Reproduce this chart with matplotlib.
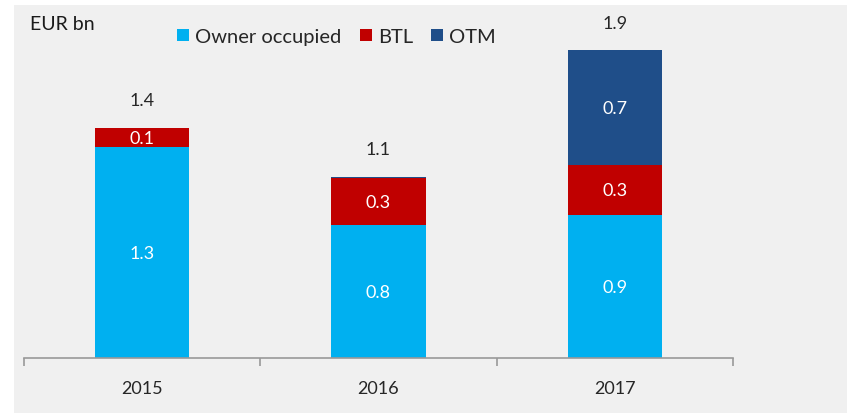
import numpy as np
import matplotlib.pyplot as plt
from matplotlib.patches import Rectangle

years = ['2015', '2016', '2017']
owner_occupied = [1.30, 0.82, 0.88]
btl = [0.12, 0.29, 0.31]
otm = [0.0, 0.01, 0.71]
series_names = ['Owner occupied', 'BTL', 'OTM']
colors = ['#00b0f0', '#c00000', '#1f4e89']

plt.rcParams['font.family'] = ['Lato', 'DejaVu Sans']

fig = plt.figure(figsize=(8.47, 4.14), dpi=100)
fig.patch.set_facecolor('white')
# grey panel behind the chart
fig.patches.append(Rectangle((14 / 847, 0), 1, 1 - 6 / 414, transform=fig.transFigure,
                             facecolor='#f0f0f0', edgecolor='none', zorder=-10))

ax = fig.add_axes([24 / 847, 55 / 414, 709 / 847, 324 / 414])
ax.set_facecolor('none')

x = np.arange(len(years))
bottom = np.zeros(len(years))
for vals, name, c in zip([owner_occupied, btl, otm], series_names, colors):
    vals = np.array(vals)
    ax.bar(x, vals, width=0.40, bottom=bottom, color=c, label=name, zorder=2)
    for xi, b, v in zip(x, bottom, vals):
        if v >= 0.1:
            ax.text(xi, b + v / 2, f'{v:.1f}', ha='center', va='center',
                    color='white', fontsize=13, zorder=3)
    bottom += vals

for xi, tot in zip(x, bottom):
    ax.text(xi, tot + 0.17, f'{tot:.1f}', ha='center', va='center',
            color='#262626', fontsize=13)

ax.set_xlim(-0.5, 2.5)
ax.set_ylim(0, 2.0)
ax.set_yticks([])
for s in ['top', 'right', 'left']:
    ax.spines[s].set_visible(False)
ax.spines['bottom'].set_color('#999999')
ax.spines['bottom'].set_linewidth(1.2)
ax.set_xticks([-0.5, 0.5, 1.5, 2.5], minor=False)
ax.set_xticklabels([])
ax.set_xticks(x, minor=True)
ax.set_xticklabels(years, minor=True, fontsize=13, color='#262626')
ax.tick_params(axis='x', which='major', length=6, color='#999999', width=1.2)
ax.tick_params(axis='x', which='minor', length=0, pad=16)

fig.text(30 / 847, 1 - 25 / 414, 'EUR bn', fontsize=14, color='#1a1a1a', va='center')
ax.legend(loc='upper left', bbox_to_anchor=(159 / 847, 1 - 11 / 414), bbox_transform=fig.transFigure,
          ncol=3, frameon=False, fontsize=14.5, handlelength=0.6, handleheight=0.6,
          handletextpad=0.3, columnspacing=0.9, labelcolor='#262626')

fig.savefig('out.png', dpi=100, facecolor='white')
